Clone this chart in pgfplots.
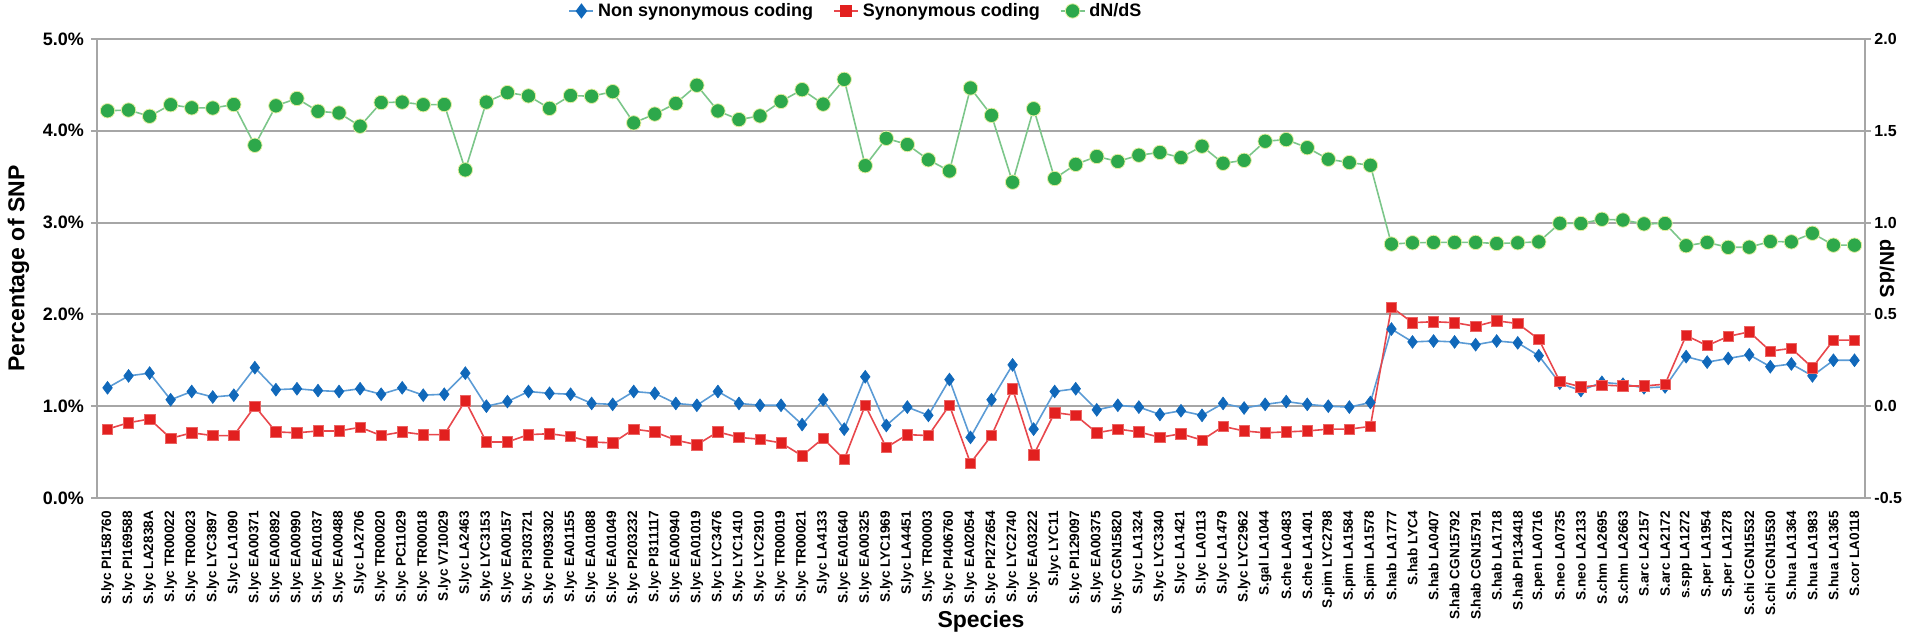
\documentclass[border=0pt]{standalone}
\usepackage{pgfplots}
\pgfplotsset{compat=1.18}
\usepackage{pgfplotstable}
\usepackage{fontspec}
\setmainfont{Liberation Sans}

\definecolor{nsblue}{HTML}{1068BA}
\definecolor{nsline}{HTML}{5B9BD5}
\definecolor{synred}{HTML}{E2201F}
\definecolor{synline}{HTML}{E8474C}
\definecolor{dndsgreen}{HTML}{2DA84B}
\definecolor{dndsline}{HTML}{7CC68A}
\definecolor{dndsedge}{HTML}{E4EFA0}
\definecolor{gridgray}{HTML}{A6A6A6}

% non, syn: % of SNP (left axis); dnds: right axis
\pgfplotstableread{
x non syn dnds
1 1.20 0.75 1.609
2 1.33 0.82 1.613
3 1.36 0.86 1.579
4 1.07 0.65 1.642
5 1.16 0.71 1.625
6 1.10 0.68 1.624
7 1.12 0.68 1.643
8 1.42 1.00 1.421
9 1.18 0.72 1.636
10 1.19 0.71 1.676
11 1.17 0.73 1.606
12 1.16 0.73 1.597
13 1.19 0.77 1.525
14 1.13 0.68 1.654
15 1.20 0.72 1.656
16 1.12 0.69 1.642
17 1.13 0.69 1.643
18 1.36 1.06 1.287
19 1.00 0.61 1.656
20 1.05 0.61 1.708
21 1.16 0.69 1.690
22 1.14 0.70 1.622
23 1.13 0.67 1.692
24 1.03 0.61 1.688
25 1.02 0.60 1.713
26 1.16 0.75 1.543
27 1.14 0.72 1.591
28 1.03 0.63 1.649
29 1.01 0.58 1.748
30 1.16 0.72 1.608
31 1.03 0.66 1.561
32 1.01 0.64 1.581
33 1.01 0.60 1.660
34 0.80 0.46 1.724
35 1.07 0.65 1.645
36 0.75 0.42 1.780
37 1.32 1.01 1.310
38 0.79 0.55 1.459
39 0.99 0.69 1.425
40 0.90 0.68 1.342
41 1.29 1.01 1.281
42 0.66 0.38 1.733
43 1.07 0.68 1.584
44 1.45 1.19 1.220
45 0.75 0.47 1.620
46 1.16 0.93 1.240
47 1.19 0.90 1.317
48 0.96 0.71 1.360
49 1.01 0.75 1.333
50 0.99 0.72 1.367
51 0.91 0.66 1.382
52 0.95 0.70 1.354
53 0.90 0.63 1.416
54 1.03 0.78 1.323
55 0.98 0.73 1.339
56 1.02 0.71 1.443
57 1.05 0.72 1.452
58 1.02 0.73 1.408
59 1.00 0.75 1.345
60 0.99 0.75 1.327
61 1.04 0.78 1.312
62 1.84 2.08 0.883
63 1.70 1.91 0.890
64 1.71 1.92 0.892
65 1.70 1.91 0.892
66 1.67 1.87 0.892
67 1.71 1.93 0.886
68 1.69 1.90 0.890
69 1.55 1.73 0.895
70 1.25 1.27 0.996
71 1.17 1.21 0.995
72 1.26 1.23 1.018
73 1.24 1.22 1.014
74 1.20 1.22 0.993
75 1.21 1.24 0.995
76 1.54 1.77 0.874
77 1.48 1.66 0.892
78 1.52 1.76 0.865
79 1.56 1.81 0.866
80 1.43 1.60 0.897
81 1.46 1.63 0.895
82 1.33 1.42 0.942
83 1.50 1.72 0.877
84 1.50 1.72 0.877
}\snp

\begin{document}
\begin{tikzpicture}
\pgfplotsset{
  every axis/.append style={
    width=884bp, height=229.5bp, scale only axis,
    xmin=0.5, xmax=84.5,
    axis line style={gridgray, line width=1bp},
    tick style={gridgray, line width=1bp},
    tick align=outside, major tick length=3bp,
    y tick label style={font=\fontsize{9bp}{10bp}\selectfont\bfseries},
    label style={font=\fontsize{11.5bp}{13bp}\selectfont\bfseries},
  },
}
\begin{axis}[
  name=main,
  axis x line*=bottom, axis y line*=left,
  ymin=0, ymax=5,
  ytick={0,1,2,3,4,5},
  yticklabels={0.0\%,1.0\%,2.0\%,3.0\%,4.0\%,5.0\%},
  ymajorgrids, grid style={gridgray, line width=1bp},
  xtick={1,...,84},
  xtick style={draw=none},
  xticklabels={S.lyc PI158760,S.lyc PI169588,S.lyc LA2838A,S.lyc TR00022,S.lyc TR00023,S.lyc LYC3897,S.lyc LA1090,S.lyc EA00371,S.lyc EA00892,S.lyc EA00990,S.lyc EA01037,S.lyc EA00488,S.lyc LA2706,S.lyc TR00020,S.lyc PC11029,S.lyc TR00018,S.lyc V710029,S.lyc LA2463,S.lyc LYC3153,S.lyc EA00157,S.lyc PI303721,S.lyc PI093302,S.lyc EA01155,S.lyc EA01088,S.lyc EA01049,S.lyc PI203232,S.lyc PI311117,S.lyc EA00940,S.lyc EA01019,S.lyc LYC3476,S.lyc LYC1410,S.lyc LYC2910,S.lyc TR00019,S.lyc TR00021,S.lyc LA4133,S.lyc EA01640,S.lyc EA00325,S.lyc LYC1969,S.lyc LA4451,S.lyc TR00003,S.lyc PI406760,S.lyc EA02054,S.lyc PI272654,S.lyc LYC2740,S.lyc EA03222,S.lyc LYC11,S.lyc PI129097,S.lyc EA00375,S.lyc CGN15820,S.lyc LA1324,S.lyc LYC3340,S.lyc LA1421,S.lyc LA0113,S.lyc LA1479,S.lyc LYC2962,S.gal LA1044,S.che LA0483,S.che LA1401,S.pim LYC2798,S.pim LA1584,S.pim LA1578,S.hab LA1777,S.hab LYC4,S.hab LA0407,S.hab CGN15792,S.hab CGN15791,S.hab LA1718,S.hab PI134418,S.pen LA0716,S.neo LA0735,S.neo LA2133,S.chm LA2695,S.chm LA2663,S.arc LA2157,S.arc LA2172,s.spp LA1272,S.per LA1954,S.per LA1278,S.chi CGN15532,S.chi CGN15530,S.hua LA1364,S.hua LA1983,S.hua LA1365,S.cor LA0118},
  x tick label style={rotate=90, anchor=east, font=\fontsize{6.8bp}{8bp}\selectfont\bfseries},
  xlabel={Species},
  xlabel style={at={(axis description cs:0.5,0)}, anchor=center, yshift=-62bp},
  ylabel={Percentage of SNP},
]
\addplot[nsline, line width=0.8bp, mark=diamond*, mark size=3.2bp,
  mark options={fill=nsblue, draw=nsblue, line width=0.3bp}] table[x=x, y=non] {\snp};
\addplot[synline, line width=0.8bp, mark=square*, mark size=2.6bp,
  mark options={fill=synred, draw=synred!70!white, line width=0.3bp}] table[x=x, y=syn] {\snp};
\end{axis}

\begin{axis}[
  axis x line=none, axis y line*=right,
  ymin=-0.5, ymax=2,
  ytick={-0.5,0,0.5,1,1.5,2},
  yticklabels={-0.5,0.0,0.5,1.0,1.5,2.0},
  y tick label style={font=\fontsize{8bp}{9bp}\selectfont\bfseries, inner xsep=1.5bp},
  ylabel={dN/dS},
  ylabel style={at={(axis description cs:1.0125,0.5)}, anchor=center, rotate=180,
    font=\fontsize{10bp}{12bp}\selectfont\bfseries},
  legend style={at={(0.5,1)}, anchor=center, xshift=-62bp, yshift=14bp,
    draw=none, fill=none, font=\fontsize{9bp}{11bp}\selectfont\bfseries,
    legend columns=-1,
    /tikz/every even column/.append style={column sep=8bp}},
  legend image code/.code={\draw[mark repeat=2, mark phase=2, #1]
    plot coordinates {(0bp,0bp) (6bp,0bp) (12bp,0bp)};},
]
\addlegendimage{nsline, line width=0.8bp, mark=diamond*, mark size=3.2bp,
  mark options={fill=nsblue, draw=nsblue}}
\addlegendentry{Non synonymous coding}
\addlegendimage{synline, line width=0.8bp, mark=square*, mark size=2.6bp,
  mark options={fill=synred, draw=synred}}
\addlegendentry{Synonymous coding}
\addplot[dndsline, line width=0.8bp, mark=*, mark size=3.6bp,
  mark options={fill=dndsgreen, draw=dndsedge, line width=0.4bp}] table[x=x, y=dnds] {\snp};
\addlegendentry{dN/dS}
\end{axis}

\pgfresetboundingbox
\path[use as bounding box] ([xshift=-48.5bp, yshift=-71bp]main.south west)
  rectangle ([xshift=20bp, yshift=19.5bp]main.north east);
\end{tikzpicture}
\end{document}
